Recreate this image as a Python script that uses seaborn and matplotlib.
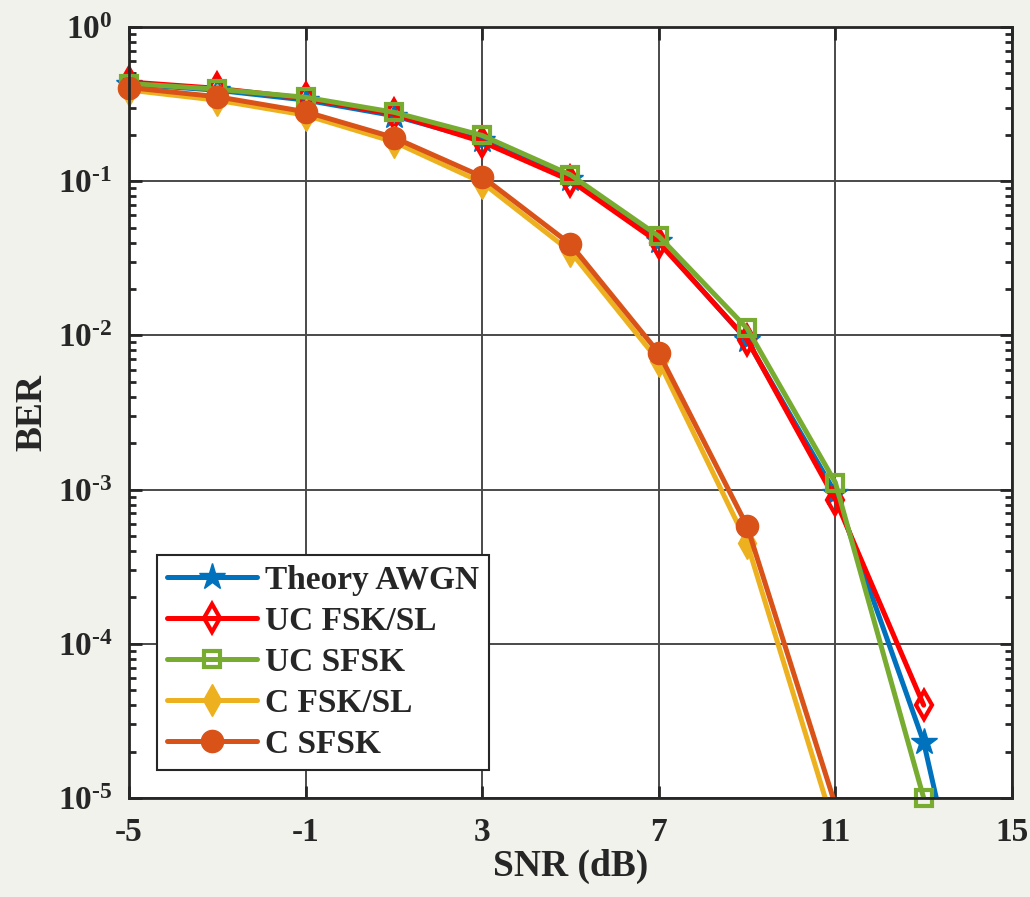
import numpy as np
import matplotlib
matplotlib.use("Agg")
import matplotlib.pyplot as plt
import matplotlib.ticker as mticker
from matplotlib.lines import Line2D
import seaborn as sns

# ---------------- data ----------------
snr_uc = [-5, -3, -1, 1, 3, 5, 7, 9, 11, 13]
snr_theory = [-5, -3, -1, 1, 3, 5, 7, 9, 11, 13, 15]
snr_c = [-5, -3, -1, 1, 3, 5, 7, 9, 11]

ber_theory = [0.427, 0.389, 0.336, 0.266, 0.184, 0.103, 0.0408, 0.0093, 0.00095, 2.3e-5, 6.8e-8]
ber_uc_fsksl = [0.44, 0.40, 0.345, 0.272, 0.180, 0.101, 0.040, 0.0094, 0.00086, 4.0e-5]
ber_uc_sfsk = [0.43, 0.395, 0.35, 0.28, 0.198, 0.110, 0.044, 0.0111, 0.00111, 1.0e-5]
ber_c_fsksl = [0.39, 0.335, 0.268, 0.180, 0.098, 0.035, 0.0068, 0.00045, 6.1e-6]
ber_c_sfsk = [0.405, 0.353, 0.282, 0.192, 0.107, 0.039, 0.0077, 0.00058, 9.0e-6]

labels = ["Theory AWGN", "UC FSK/SL", "UC SFSK", "C FSK/SL", "C SFSK"]
x_ticks = [-5, -1, 3, 7, 11, 15]
y_exponents = [-5, -4, -3, -2, -1, 0]

# ---------------- style ----------------
sns.set_style("ticks")
TXT = "#262626"
BG = "#F2F2EC"
plt.rcParams.update({
    "font.family": ["Liberation Serif", "DejaVu Serif"],
    "font.weight": "bold",
    "axes.unicode_minus": False,
    "mathtext.fontset": "custom",
    "mathtext.rm": "Liberation Serif:bold",
    "mathtext.it": "Liberation Serif:bold:italic",
    "mathtext.bf": "Liberation Serif:bold",
    "mathtext.default": "rm",
    "text.color": TXT,
    "axes.labelcolor": TXT,
    "xtick.color": TXT,
    "ytick.color": TXT,
})

fig = plt.figure(figsize=(10.30, 8.97), dpi=100, facecolor=BG)
ax = fig.add_axes([0.1252, 0.1104, 0.8573, 0.8595])
ax.set_facecolor("white")
ax.set_yscale("log")

LW = 3.6
series = [
    (snr_theory, ber_theory, labels[0], "#0072BD", "*", 20, "#0072BD", 1.0),
    (snr_uc, ber_uc_fsksl, labels[1], "#FF0000", "d", 14, "none", 3.0),
    (snr_uc, ber_uc_sfsk, labels[2], "#77AC30", "s", 11, "none", 3.0),
    (snr_c, ber_c_fsksl, labels[3], "#EDB120", "d", 16, "#EDB120", 1.0),
    (snr_c, ber_c_sfsk, labels[4], "#D95319", "o", 16, "#D95319", 1.0),
]

YMIN, YMAX = 1e-5, 1.0
handles = []
for i, (x, y, lab, col, mk, ms, mfc, mew) in enumerate(series):
    x = np.asarray(x, float)
    y = np.asarray(y, float)
    vis = y >= YMIN * 0.999
    # line (clipped to the axes)
    sns.lineplot(x=x, y=y, ax=ax, color=col, lw=LW, sort=False,
                 estimator=None, legend=False, zorder=3 + i)
    # markers (only for points inside the y range, not clipped)
    sns.lineplot(x=x[vis], y=y[vis], ax=ax, color=col, lw=0, linestyle="none",
                 marker=mk, ms=ms, mfc=mfc, mec=col, mew=mew, sort=False,
                 estimator=None, legend=False, clip_on=False, zorder=3 + i)
    handles.append(Line2D([], [], color=col, lw=LW, marker=mk, ms=ms,
                          mfc=mfc, mec=col, mew=mew, label=lab))

ax.set_xlim(-5, 15)
ax.set_ylim(YMIN, YMAX)
ax.set_xticks(x_ticks)
ax.set_xticklabels([str(t) for t in x_ticks])
ax.set_yticks([10.0 ** e for e in y_exponents])
ax.set_yticklabels([r"10$^{\text{%s}}$" % str(e) for e in y_exponents])
ax.yaxis.set_minor_locator(mticker.LogLocator(base=10, subs=np.arange(2, 10), numticks=20))
ax.yaxis.set_minor_formatter(mticker.NullFormatter())

ax.grid(True, which="major", color="#4a4a4a", lw=1.4)
ax.grid(False, which="minor")
ax.set_axisbelow(True)
for s in ax.spines.values():
    s.set_color(TXT)
    s.set_linewidth(2.0)
    s.set_visible(True)
    s.set_zorder(20)

ax.tick_params(which="both", direction="in", top=True, right=True,
               width=2.0, labelsize=24)
ax.tick_params(axis="x", pad=14)
ax.tick_params(axis="y", pad=12)
ax.tick_params(which="major", length=9)
ax.tick_params(which="minor", length=5)
ax.tick_params(axis="x", which="minor", top=False, bottom=False)
for lbl in ax.get_xticklabels() + ax.get_yticklabels():
    lbl.set_fontweight("bold")

ax.set_xlabel("SNR (dB)", fontsize=27, fontweight="bold", labelpad=0)
ax.set_ylabel("BER", fontsize=27, fontweight="bold", labelpad=6)

leg = ax.legend(handles=handles, loc="lower left",
                bbox_to_anchor=(0.0317, 0.0363), borderaxespad=0,
                prop={"family": "Liberation Serif", "weight": "bold", "size": 24},
                frameon=True, fancybox=False, framealpha=1, edgecolor=TXT,
                handlelength=2.7, handletextpad=0.25, labelspacing=0.3,
                borderpad=0.3)
leg.get_frame().set_linewidth(1.5)
leg.set_zorder(30)

fig.savefig("out.png", dpi=100, facecolor=BG)
